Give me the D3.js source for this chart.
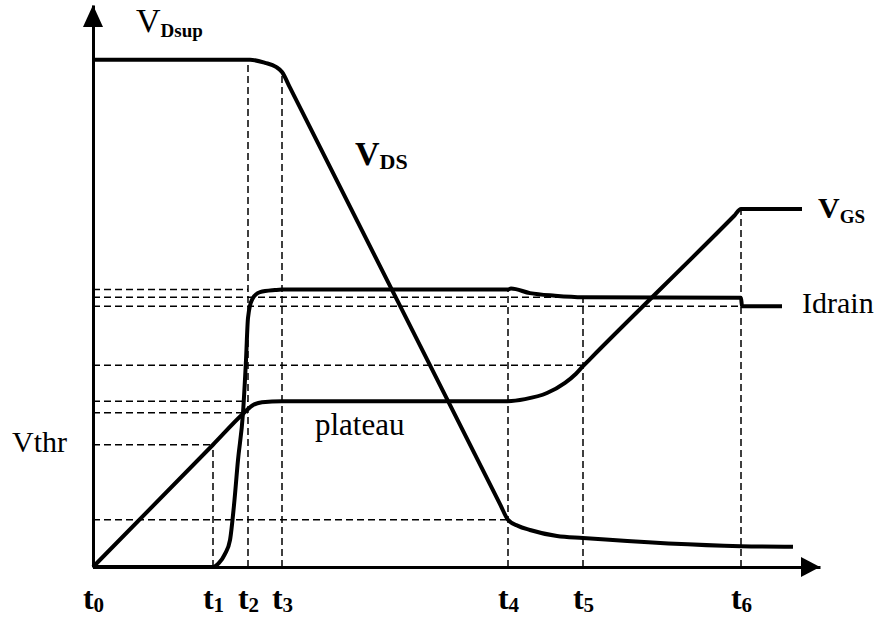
<!DOCTYPE html>
<html>
<head>
<meta charset="utf-8">
<script src="https://cdn.jsdelivr.net/npm/d3@7"></script>
<style>
  body { margin: 0; background: #fff; }
  svg { display: block; }
</style>
</head>
<body>
<div id="vis"></div>
<script>
// Time marks on the x axis (t0 .. t6), in time units
const T_LABELS = ["0", "1", "2", "3", "4", "5", "6"];
const T_VALUES = [0, 1.20, 1.55, 1.89, 4.15, 4.90, 6.48];

// Level each vertical dashed line goes up to (null = none)
const T_TOPS = [null, 2.41, 10.0, 9.76, 5.47, 5.32, 7.06];

// Horizontal dashed levels and the time where each one stops
const GUIDE_LEVELS = [5.47, 5.32, 5.14, 3.98, 3.27, 3.04, 2.41, 0.93];
const GUIDE_ENDS   = [1.55, 4.90, 6.48, 4.90, 1.55, 1.55, 1.20, 4.15];

// Series: [time, level]
const VDS = [[0, 10.0], [1.57, 10.0], [1.72, 9.94], [1.83, 9.86], [1.89, 9.76],
             [1.97, 9.45], [4.07, 1.24], [4.15, 0.93], [4.25, 0.81], [4.37, 0.73],
             [4.64, 0.61], [4.90, 0.57], [6.48, 0.41], [7.00, 0.40]];

const VGS = [[0, 0], [1.20, 2.41], [1.50, 3.02], [1.59, 3.18], [1.69, 3.25],
             [1.89, 3.27], [4.15, 3.27], [4.32, 3.31], [4.54, 3.43], [4.72, 3.63],
             [4.83, 3.81], [4.90, 3.96], [4.97, 4.10], [6.41, 6.92], [6.48, 7.06],
             [7.09, 7.06]];

const IDRAIN = [[0, 0], [1.20, 0], [1.26, 0.08], [1.32, 0.26], [1.37, 0.53],
                [1.41, 1.22], [1.45, 2.11], [1.50, 3.04], [1.53, 4.08], [1.55, 4.91],
                [1.59, 5.27], [1.67, 5.42], [1.82, 5.46], [1.89, 5.47], [4.15, 5.47],
                [4.18, 5.49], [4.37, 5.40], [4.62, 5.35], [4.90, 5.32], [6.48, 5.31],
                [6.49, 5.14], [6.89, 5.14]];

// Frame
const FRAME_WIDTH = 886;
const FRAME_HEIGHT = 619;
const ORIGIN = {x: 93, y: 567};
const SERIF = "'Liberation Serif', 'Times New Roman', 'DejaVu Serif', serif";

const FRAME = d3.select("#vis")
                .append("svg")
                  .attr("width", FRAME_WIDTH)
                  .attr("height", FRAME_HEIGHT)
                  .attr("font-family", SERIF);

// Scales
const X_SCALE = d3.scaleLinear().domain([0, 7.27]).range([ORIGIN.x, 820]);
const Y_SCALE = d3.scaleLinear().domain([0, 11.08]).range([ORIGIN.y, 5]);

// Dashed guides
const dashed = FRAME.append("g")
                    .attr("stroke", "#000")
                    .attr("stroke-width", 1.5)
                    .attr("stroke-dasharray", "7,4")
                    .attr("fill", "none");

dashed.selectAll("line.h")
      .data(GUIDE_LEVELS)
      .enter()
      .append("line")
        .attr("class", "h")
        .attr("x1", X_SCALE(0))
        .attr("x2", (d, i) => X_SCALE(GUIDE_ENDS[i]))
        .attr("y1", (d) => Y_SCALE(d))
        .attr("y2", (d) => Y_SCALE(d));

dashed.selectAll("line.v")
      .data(T_VALUES.filter((d, i) => T_TOPS[i] !== null))
      .enter()
      .append("line")
        .attr("class", "v")
        .attr("x1", (d) => X_SCALE(d))
        .attr("x2", (d) => X_SCALE(d))
        .attr("y1", Y_SCALE(0))
        .attr("y2", (d) => Y_SCALE(T_TOPS[T_VALUES.indexOf(d)]));

// Curves
const line = d3.line()
               .x((d) => X_SCALE(d[0]))
               .y((d) => Y_SCALE(d[1]))
               .curve(d3.curveMonotoneX);

FRAME.selectAll("path.curve")
     .data([VDS, VGS, IDRAIN])
     .enter()
     .append("path")
       .attr("class", "curve")
       .attr("d", line)
       .attr("fill", "none")
       .attr("stroke", "#000")
       .attr("stroke-width", 4)
       .attr("stroke-linejoin", "round");

// Axes (plain lines with arrow heads)
const xAxis = FRAME.append("g")
                   .attr("transform", "translate(0," + ORIGIN.y + ")")
                   .call(d3.axisBottom(X_SCALE).tickValues(T_VALUES).tickSize(0).tickPadding(31))
                   .attr("font-family", SERIF)
                   .attr("font-size", null);
xAxis.select(".domain").attr("stroke-width", 3);
xAxis.selectAll(".tick text")
     .attr("font-family", SERIF)
     .attr("fill", "#000")
     .text(null)
     .each(function(d, i) {
       const t = d3.select(this);
       t.append("tspan").attr("font-size", 32).attr("font-weight", "bold").text("t");
       t.append("tspan").attr("font-size", 21).attr("font-weight", "bold")
        .attr("dy", 3).text(T_LABELS[i]);
     });

const yAxis = FRAME.append("g")
                   .attr("transform", "translate(" + ORIGIN.x + ",0)")
                   .call(d3.axisLeft(Y_SCALE).tickValues([]).tickSizeOuter(0));
yAxis.select(".domain").attr("stroke-width", 3);

// Arrow heads
const xEnd = X_SCALE.range()[1];
const yEnd = Y_SCALE.range()[1];
FRAME.append("path")
     .attr("d", "M" + xEnd + "," + ORIGIN.y + "L" + (xEnd - 19) + "," + (ORIGIN.y - 10) +
                "L" + (xEnd - 19) + "," + (ORIGIN.y + 10) + "Z")
     .attr("fill", "#000");
FRAME.append("path")
     .attr("d", "M" + ORIGIN.x + "," + yEnd + "L" + (ORIGIN.x - 10) + "," + (yEnd + 22) +
                "L" + (ORIGIN.x + 10) + "," + (yEnd + 22) + "Z")
     .attr("fill", "#000");

// Labels
function subLabel(x, y, main, sub, mainSize, subSize, mainBold, dy) {
  const t = FRAME.append("text").attr("x", x).attr("y", y).attr("font-family", SERIF);
  t.append("tspan").attr("font-size", mainSize)
   .attr("font-weight", mainBold ? "bold" : "normal").text(main);
  t.append("tspan").attr("font-size", subSize).attr("font-weight", "bold")
   .attr("dy", dy).text(sub);
}

subLabel(136, 32, "V", "Dsup", 34, 19, false, 5);
subLabel(355, 165, "V", "DS", 34, 22, true, 4);
subLabel(818, 218, "V", "GS", 30, 19, true, 5);

function plainLabel(x, y, size, txt) {
  FRAME.append("text").attr("x", x).attr("y", y)
       .attr("font-family", SERIF).attr("font-size", size).text(txt);
}

plainLabel(802, 313, 30, "Idrain");
plainLabel(315, 435, 31, "plateau");
plainLabel(12, 452, 30, "Vthr");
</script>
</body>
</html>
